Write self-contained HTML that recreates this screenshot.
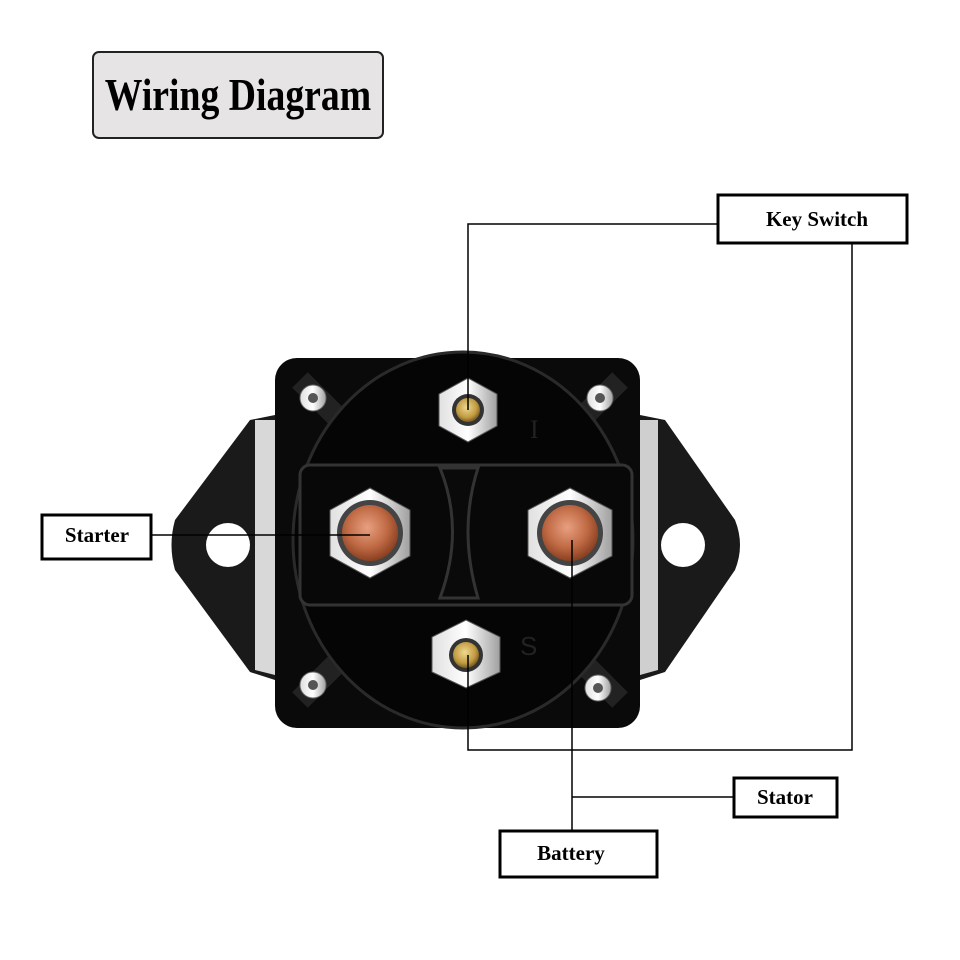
<!DOCTYPE html>
<html><head><style>html,body{margin:0;padding:0;background:#fff}svg{display:block}</style></head><body>
<svg width="960" height="960" viewBox="0 0 960 960" xmlns="http://www.w3.org/2000/svg">
<defs>
<radialGradient id="cu" cx="0.45" cy="0.4" r="0.6"><stop offset="0" stop-color="#e8a080"/><stop offset="0.6" stop-color="#c06a45"/><stop offset="1" stop-color="#8a4020"/></radialGradient>
<radialGradient id="br" cx="0.45" cy="0.4" r="0.6"><stop offset="0" stop-color="#f0d890"/><stop offset="0.7" stop-color="#c09a40"/><stop offset="1" stop-color="#7a5a20"/></radialGradient>
<linearGradient id="ag" x1="0" x2="1"><stop offset="0" stop-color="#e0e0e0"/><stop offset="0.5" stop-color="#ffffff"/><stop offset="1" stop-color="#a0a0a0"/></linearGradient>
</defs>
<rect x="93" y="52" width="290" height="86" rx="6" fill="#e6e4e4" stroke="#222" stroke-width="2"/>
<text x="238" y="110" text-anchor="middle" font-family="Liberation Serif, serif" font-weight="bold" font-size="46" transform="translate(238 0) scale(0.82 1) translate(-238 0)" fill="#000">Wiring  Diagram</text>

<!-- brackets -->
<path d="M275 415 L250 420 L175 520 Q168 545 175 570 L250 672 L275 680 Z" fill="#1a1a1a"/>
<path d="M255 420 L275 420 L275 675 L255 670 Z" fill="#d8d8d8"/>
<circle cx="228" cy="545" r="22" fill="#fff"/>
<path d="M640 415 L665 420 L735 520 Q745 545 735 570 L665 672 L640 680 Z" fill="#1a1a1a"/>
<path d="M640 420 L658 420 L658 670 L640 675 Z" fill="#cfcfcf"/>
<circle cx="683" cy="545" r="22" fill="#fff"/>

<!-- body -->
<rect x="275" y="358" width="365" height="370" rx="22" fill="#0a0a0a"/>
<path d="M300 380 L620 700 M620 380 L300 700" stroke="#222" stroke-width="22"/>
<ellipse cx="463" cy="540" rx="170" ry="188" fill="#050505" stroke="#2a2a2a" stroke-width="3"/>
<rect x="300" y="465" width="332" height="140" rx="10" fill="#080808" stroke="#333" stroke-width="3"/>
<path d="M440 468 Q465 530 440 598 L478 598 Q458 530 478 468 Z" fill="#0a0a0a" stroke="#333" stroke-width="3"/>
<text x="530" y="438" font-family="Liberation Serif, serif" font-size="26" fill="#222">I</text>
<text x="520" y="655" font-family="Liberation Sans, sans-serif" font-size="26" fill="#222">S</text>

<!-- screws -->
<g fill="url(#ag)" stroke="#666"><circle cx="313" cy="398" r="13"/><circle cx="600" cy="398" r="13"/><circle cx="313" cy="685" r="13"/><circle cx="598" cy="688" r="13"/></g>
<g fill="#555"><circle cx="313" cy="398" r="5"/><circle cx="600" cy="398" r="5"/><circle cx="313" cy="685" r="5"/><circle cx="598" cy="688" r="5"/></g>

<!-- terminals -->
<polygon points="468,378 497,394 497,426 468,442 439,426 439,394" fill="url(#ag)" stroke="#555"/>
<circle cx="468" cy="410" r="16" fill="#333"/><circle cx="468" cy="410" r="12" fill="url(#br)"/>
<polygon points="466,620 500,637 500,672 466,688 432,672 432,637" fill="url(#ag)" stroke="#555"/>
<circle cx="466" cy="655" r="17" fill="#333"/><circle cx="466" cy="655" r="13" fill="url(#br)"/>
<polygon points="370,488 410,510 410,556 370,578 330,556 330,510" fill="url(#ag)" stroke="#555"/>
<circle cx="370" cy="533" r="33" fill="#444"/><circle cx="370" cy="533" r="28" fill="url(#cu)"/>
<polygon points="570,488 612,510 612,556 570,578 528,556 528,510" fill="url(#ag)" stroke="#555"/>
<circle cx="570" cy="533" r="33" fill="#444"/><circle cx="570" cy="533" r="28" fill="url(#cu)"/>

<!-- wires -->
<g fill="none" stroke="#000" stroke-width="1.5">
<polyline points="468,410 468,224 718,224"/>
<polyline points="852,243 852,750 468,750 468,655"/>
<line x1="151" y1="535" x2="370" y2="535"/>
<line x1="572" y1="540" x2="572" y2="830"/>
<line x1="572" y1="797" x2="733" y2="797"/>
</g>

<!-- labels -->
<g fill="#fff" stroke="#000" stroke-width="3">
<rect x="718" y="195" width="189" height="48"/>
<rect x="42" y="515" width="109" height="44"/>
<rect x="734" y="778" width="103" height="39"/>
<rect x="500" y="831" width="157" height="46"/>
</g>
<g font-family="Liberation Serif, serif" font-weight="bold" font-size="21" fill="#000" text-anchor="middle">
<text x="817" y="226">Key Switch</text>
<text x="97" y="542">Starter</text>
<text x="785" y="804">Stator</text>
<text x="571" y="860">Battery</text>
</g>
</svg>
</body></html>
